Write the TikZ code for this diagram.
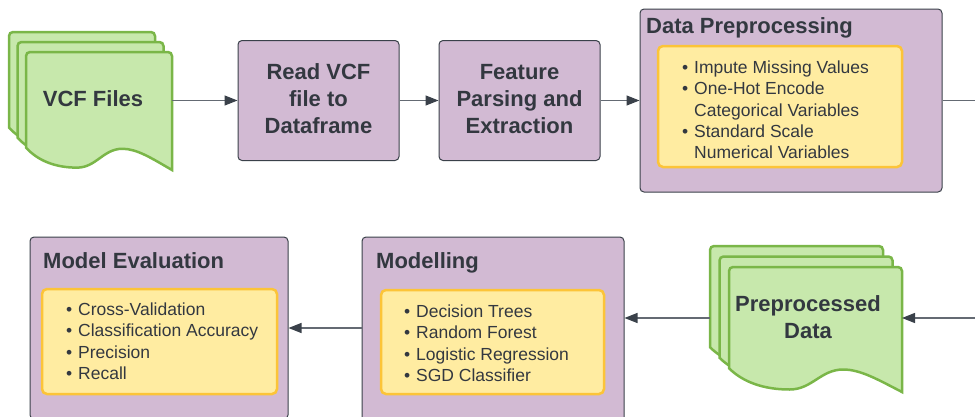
\documentclass[tikz,border=0pt]{standalone}
\usepackage{fontspec}
\setmainfont{Liberation Sans}
\usetikzlibrary{arrows.meta}
\definecolor{purp}{RGB}{210,186,211}
\definecolor{boxline}{RGB}{58,65,74}
\definecolor{yel}{RGB}{255,236,161}
\definecolor{yelline}{RGB}{252,196,56}
\definecolor{grn}{RGB}{199,232,172}
\definecolor{grnline}{RGB}{122,182,72}
\definecolor{txt}{RGB}{51,56,64}
\definecolor{conn}{RGB}{100,106,115}
\newcommand\docsheet[4]{%
  \begin{scope}[shift={(#1,#2)}, x=#3pt, y=-#4pt]
    \filldraw[docstyle] (0,0.81) [rounded corners=4pt] -- (0,0) -- (1,0) -- (1,0.5) [sharp corners] -- (1,1)
      .. controls (0.86,0.9) and (0.76,0.82) .. (0.66,0.82)
      .. controls (0.53,0.82) and (0.48,0.98) .. (0.35,0.98)
      .. controls (0.2,0.98) and (0.08,0.92) .. (0,0.81) -- cycle;
  \end{scope}}
\newcommand\bul{\makebox[12pt][l]{•}}
\newcommand\ind{\hspace*{12pt}}
\begin{document}
\begin{tikzpicture}[x=1pt,y=-1pt,
  pbox/.style={draw=boxline, fill=purp, line width=1pt, rounded corners=4pt, inner sep=0pt},
  ybox/.style={draw=yelline, fill=yel, line width=2.5pt, rounded corners=5pt, inner sep=0pt},
  docstyle/.style={draw=grnline, fill=grn, line width=2.5pt},
  frame/.style={inner sep=0pt, outer sep=0pt},
  bigtxt/.style={inner sep=0pt, text=txt, font=\fontsize{22}{27}\selectfont\bfseries},
  listtxt/.style={inner sep=0pt, text=txt, anchor=base west, font=\fontsize{17.5}{21.4}\selectfont},
  arr/.style={draw=conn, line width=1.2pt, -{Triangle[length=13pt,width=10pt,color=boxline]}},
  plain/.style={draw=conn, line width=1.2pt}
]
\useasboundingbox (0,0) rectangle (975,416);
\clip (0,0) rectangle (975,416);

% ---- VCF Files stack
\docsheet{9}{32}{146}{118}
\docsheet{17.5}{42}{146}{118}
\docsheet{26}{52}{146}{118}
\node[frame, anchor=north west, minimum width=163pt, minimum height=138pt] (vcf) at (9,32) {};
\node[bigtxt, anchor=base] (vcftxt) at (93,106) {VCF Files};

% ---- top boxes
\node[pbox, minimum width=161pt, minimum height=120pt] (read) at (318.5,100.5) {};
\node[bigtxt, anchor=base] (readtxt) at (318.5,79) {\begin{tabular}[t]{@{}c@{}}Read VCF\\file to\\Dataframe\end{tabular}};
\node[pbox, minimum width=161pt, minimum height=120pt] (feat) at (519.5,100.5) {};
\node[bigtxt, anchor=base] (feattxt) at (519.5,79) {\begin{tabular}[t]{@{}c@{}}Feature\\Parsing and\\Extraction\end{tabular}};

\node[pbox, minimum width=302pt, minimum height=183pt] (dp) at (791,100.5) {};
\node[bigtxt, anchor=base west] (dptitle) at (646,33) {Data Preprocessing};
\node[ybox, minimum width=244pt, minimum height=121pt] (dpin) at (780,106.5) {};
\node[listtxt] (dplist) at (682,73.3) {\begin{tabular}[t]{@{}l@{}}\bul Impute Missing Values\\\bul One-Hot Encode\\\ind Categorical Variables\\\bul Standard Scale\\\ind Numerical Variables\end{tabular}};

% ---- Preprocessed Data stack
\docsheet{710}{246}{173}{125}
\docsheet{719.5}{256.5}{173}{125}
\docsheet{729}{267}{173}{125}
\node[frame, anchor=north west, minimum width=192pt, minimum height=146pt] (pre) at (710,246) {};
\node[bigtxt, anchor=base] (pretxt) at (808,311) {\begin{tabular}[t]{@{}c@{}}Preprocessed\\Data\end{tabular}};

% ---- Modelling
\node[pbox, minimum width=262pt, minimum height=203pt] (mod) at (493,338.5) {};
\node[bigtxt, anchor=base west] (modtitle) at (376,268) {Modelling};
\node[ybox, minimum width=223pt, minimum height=104pt] (modin) at (492.5,342) {};
\node[listtxt] (modlist) at (404,317.3) {\begin{tabular}[t]{@{}l@{}}\bul Decision Trees\\\bul Random Forest\\\bul Logistic Regression\\\bul SGD Classifier\end{tabular}};

% ---- Model Evaluation
\node[pbox, minimum width=258pt, minimum height=182pt] (eval) at (159,328) {};
\node[bigtxt, anchor=base west] (evaltitle) at (43,268) {Model Evaluation};
\node[ybox, minimum width=235pt, minimum height=105pt] (evalin) at (159.5,341.5) {};
\node[listtxt] (evallist) at (66,315.3) {\begin{tabular}[t]{@{}l@{}}\bul Cross-Validation\\\bul Classification Accuracy\\\bul Precision\\\bul Recall\end{tabular}};

% ---- connectors
\coordinate (edgeA) at (975,100.5);
\coordinate (edgeB) at (975,318);
\draw[arr] (vcf.east |- read.west) -- (read.west);
\draw[arr] (read.east) -- (feat.west);
\draw[arr] (feat.east) -- (dp.west);
\draw[plain] (dp.east) -- (edgeA);
\draw[arr] (edgeB) -- (pre.east |- edgeB);
\draw[arr] (pre.west |- edgeB) -- (mod.east |- edgeB);
\draw[arr] (mod.west |- eval.east) -- (eval.east);
\end{tikzpicture}
\end{document}
